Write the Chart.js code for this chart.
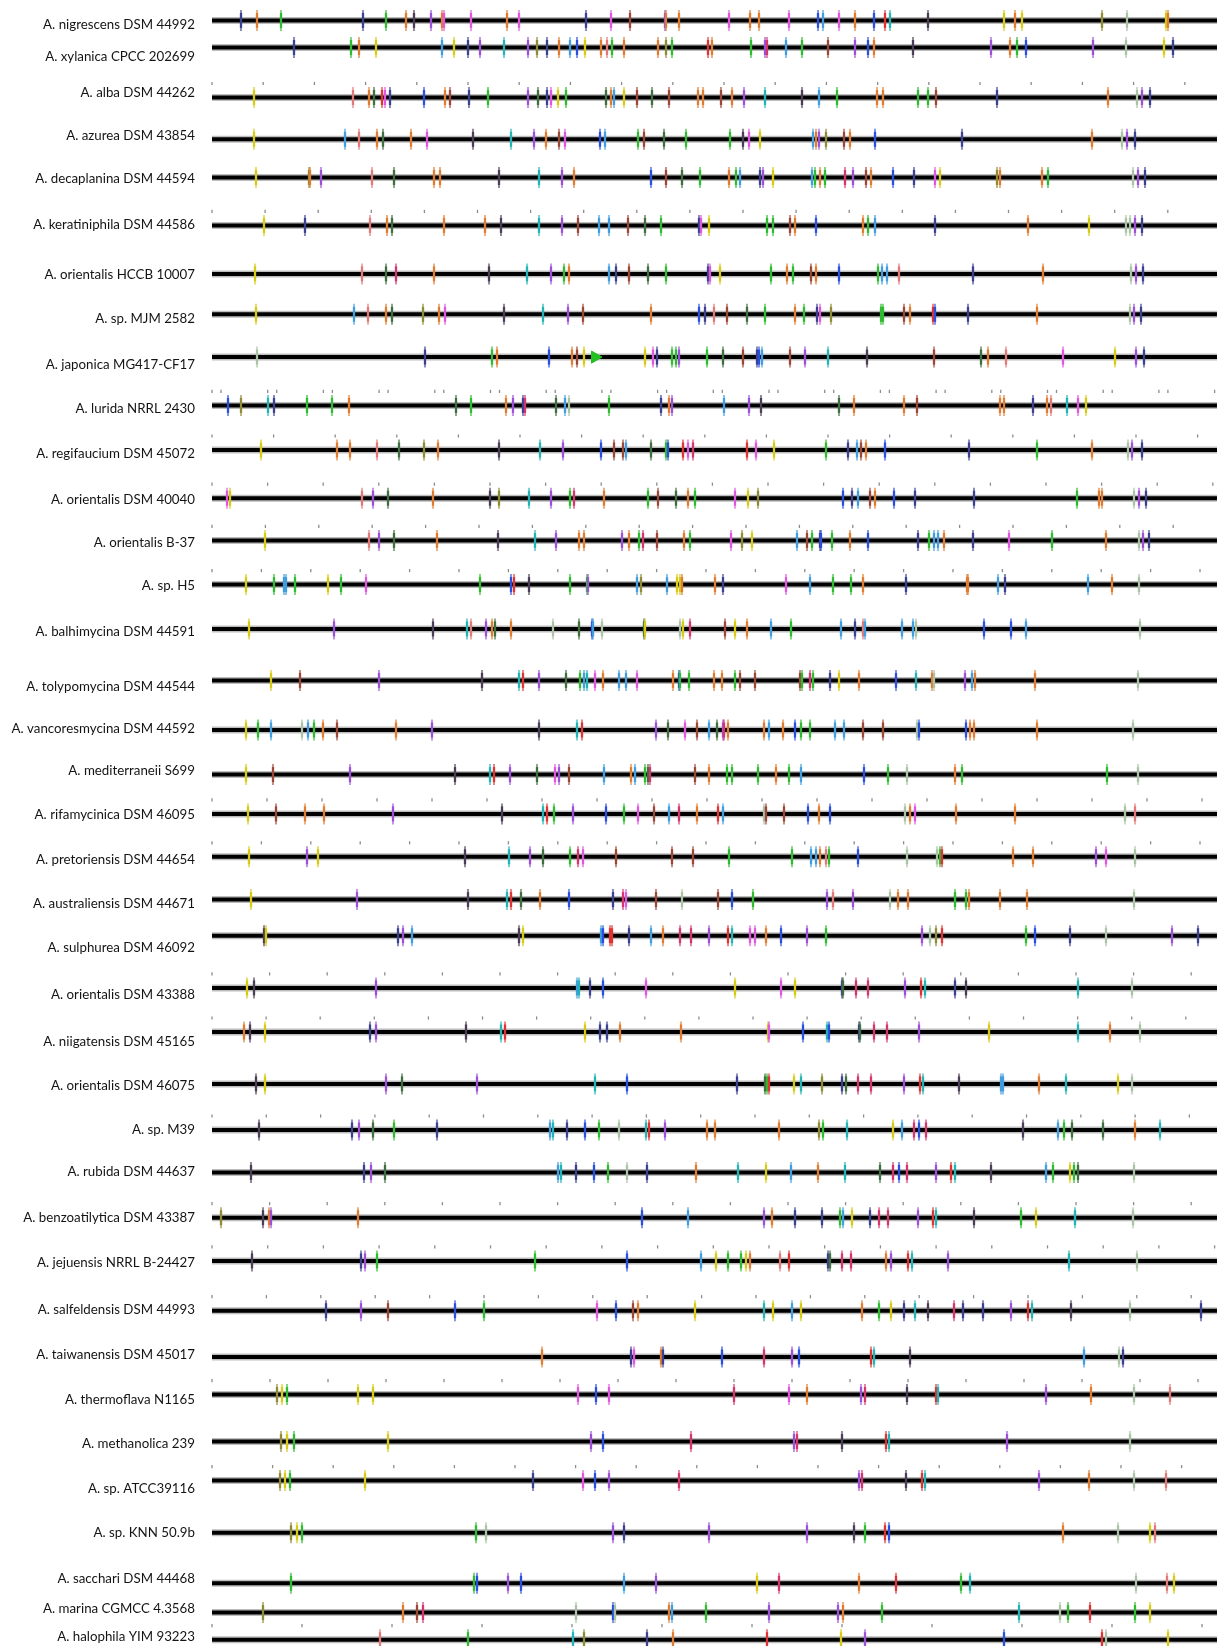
<!DOCTYPE html>
<html><head><meta charset="utf-8">
<script src="https://cdn.jsdelivr.net/npm/chart.js@4.4.1/dist/chart.umd.min.js"></script>
<style>html,body{margin:0;padding:0;background:#fff;overflow:hidden}#wrap{width:1222px;height:1646px;position:relative}</style>
</head><body><div id="wrap"><canvas id="c"></canvas></div>
<script>
const trackNames = ["A. nigrescens DSM 44992","A. xylanica CPCC 202699","A. alba DSM 44262","A. azurea DSM 43854","A. decaplanina DSM 44594","A. keratiniphila DSM 44586","A. orientalis HCCB 10007","A. sp. MJM 2582","A. japonica MG417-CF17","A. lurida NRRL 2430","A. regifaucium DSM 45072","A. orientalis DSM 40040","A. orientalis B-37","A. sp. H5","A. balhimycina DSM 44591","A. tolypomycina DSM 44544","A. vancoresmycina DSM 44592","A. mediterraneii S699","A. rifamycinica DSM 46095","A. pretoriensis DSM 44654","A. australiensis DSM 44671","A. sulphurea DSM 46092","A. orientalis DSM 43388","A. niigatensis DSM 45165","A. orientalis DSM 46075","A. sp. M39","A. rubida DSM 44637","A. benzoatilytica DSM 43387","A. jejuensis NRRL B-24427","A. salfeldensis DSM 44993","A. taiwanensis DSM 45017","A. thermoflava N1165","A. methanolica 239","A. sp. ATCC39116","A. sp. KNN 50.9b","A. sacchari DSM 44468","A. marina CGMCC 4.3568","A. halophila YIM 93223"];
const lineY = [20.4,47.5,97.5,139.3,177.5,225.4,273.9,314.3,357.1,405.4,450,498.2,540.4,584.6,628.9,680.4,730,774.6,813.9,856.8,899.6,935.7,987.9,1032,1083.9,1130,1172.4,1217.7,1260.9,1310.7,1357,1394.6,1441.6,1480.6,1532.8,1583.3,1612.5,1639.7];
const labelY = [24.6,57.1,92.8,135.9,178.9,225.1,274.5,318.5,364.7,408.8,454,500.2,543.2,586.2,631.4,687,729,771,815.1,860.2,903.3,947.4,994.6,1041.9,1085.9,1130,1172,1218.2,1262.3,1309.5,1354.7,1399.8,1443.9,1489.1,1533.2,1578.3,1608.7,1636.8];
const trackSpan = [212, 1217];
const tickStep = [55.1,null,51.2,null,null,53.1,null,null,null,55.7,61.6,55.6,53.4,49.4,null,null,null,null,55.0,49.4,null,null,57.6,54.1,null,54.3,null,57.6,55.7,54.4,null,58.0,null,60.6,null,null,null,90];
const tickSets = {9: [0, 9]};
const markX = [
[241,257,281,363,386,406,414,431,442,444,471,507,519,586,611,630,665,666,679,729,750,759,789,818,823,839,855,874,885,890,928,1004,1015,1022,1102,1127,1166,1168],
[294,351,359,376,442,454,468,480,504,528,537,547,559,570,577,585,601,607,612,624,658,666,672,708,712,751,765,767,786,802,828,855,868,874,913,991,1010,1017,1026,1093,1126,1164,1173],
[254,353,369,374,382,385,390,424,445,450,469,488,528,538,547,551,558,566,606,611,614,624,637,652,669,698,703,721,732,744,765,802,819,837,877,883,918,928,936,997,1108,1137,1142,1150],
[254,345,359,377,383,411,427,473,511,534,546,559,565,600,605,638,644,664,686,730,743,749,760,813,816,819,826,844,850,875,962,1092,1122,1127,1135],
[256,309,310,321,372,394,434,440,499,539,562,574,651,666,682,700,729,736,740,760,763,773,812,815,820,825,845,853,866,871,893,914,935,940,997,1000,1042,1048,1133,1138,1145],
[264,305,370,387,392,444,485,501,539,562,578,599,609,628,645,661,699,701,709,767,773,790,795,816,863,868,875,935,1028,1089,1126,1130,1135,1142],
[255,362,386,396,434,489,527,551,564,569,609,616,629,648,666,708,710,720,771,787,793,811,816,839,878,882,887,899,973,1043,1131,1136,1143],
[256,354,368,386,392,423,439,445,504,543,568,583,651,699,705,714,727,747,765,795,804,817,820,831,881,883,904,910,933,935,968,1037,1130,1134,1141],
[257,425,492,497,549,572,577,584,645,653,657,672,676,679,707,723,743,757,759,762,790,805,828,867,934,981,988,1006,1063,1115,1136,1144],
[228,241,268,274,307,332,349,456,471,506,513,523,525,556,565,569,609,661,669,672,724,749,761,839,854,904,917,1000,1004,1033,1047,1051,1067,1078,1086],
[261,337,350,377,399,424,438,499,540,563,601,614,623,626,651,666,668,683,688,693,747,756,774,826,848,857,861,866,885,969,1037,1092,1128,1132,1142],
[227,230,362,373,388,433,490,499,529,551,570,574,604,648,658,676,688,695,735,748,758,843,852,858,870,875,894,915,974,1077,1099,1102,1134,1139,1146],
[265,369,379,394,437,498,535,556,579,584,622,629,639,643,657,684,690,731,742,752,797,807,812,820,821,832,850,868,918,929,934,938,944,973,1009,1052,1106,1139,1143,1149],
[246,274,284,286,295,328,341,366,480,511,514,529,570,587,588,637,641,667,677,680,682,715,723,786,810,833,851,863,906,967,968,998,1005,1088,1112,1139],
[249,334,433,467,471,486,492,495,511,553,579,592,593,602,644,645,680,683,690,725,735,747,771,791,841,855,863,865,902,913,916,984,1011,1026,1140],
[271,300,379,482,519,523,539,566,580,584,587,595,603,619,626,637,673,679,680,689,714,722,735,740,755,800,802,810,813,830,839,859,896,916,932,934,965,972,975,1035,1138],
[246,258,271,302,308,314,323,337,396,432,539,577,582,656,668,685,697,709,717,723,724,728,764,769,783,795,801,810,835,844,863,883,917,919,966,970,974,1037,1133],
[246,273,350,455,490,494,510,537,555,559,569,604,631,635,645,648,650,695,709,727,732,758,776,789,801,864,888,907,955,962,1107,1138],
[248,276,305,324,393,502,543,547,554,573,606,624,638,654,669,679,697,718,723,764,766,784,808,819,830,905,910,915,956,1015,1125,1135],
[249,307,318,465,509,530,543,570,578,583,616,672,693,729,792,811,816,820,826,829,858,907,937,940,942,1013,1033,1096,1106,1135],
[251,357,468,507,511,521,540,569,613,623,626,656,682,718,732,753,827,833,853,890,898,908,955,966,969,1000,1027,1134],
[264,266,398,403,412,519,523,601,603,610,612,629,651,663,680,691,709,728,732,750,755,766,781,807,826,922,930,936,942,1026,1035,1070,1106,1172,1198],
[247,254,376,577,579,590,603,646,735,781,795,842,843,856,868,905,921,925,955,966,1078,1132],
[244,250,265,370,376,466,501,505,585,600,607,620,681,768,769,803,827,829,859,860,874,887,919,989,1078,1110,1140],
[256,265,386,402,477,595,627,737,765,767,769,794,801,822,842,846,858,871,904,920,923,959,1001,1003,1039,1066,1118,1132],
[259,352,359,373,394,437,550,553,567,585,599,619,646,649,665,707,715,779,819,823,847,893,902,914,919,926,1023,1058,1064,1072,1103,1135,1160],
[251,364,371,385,558,561,576,594,608,627,647,696,738,766,791,818,845,880,893,899,907,936,951,955,991,1046,1053,1070,1074,1078,1134],
[221,263,269,271,358,642,688,764,772,795,822,840,843,852,870,879,888,918,933,936,974,1021,1036,1075,1133],
[252,361,365,377,535,627,701,716,728,741,746,750,780,789,828,830,842,851,886,891,908,912,948,1069,1137],
[326,361,388,455,484,597,616,633,638,695,764,773,792,801,862,879,891,904,915,928,954,963,983,1011,1028,1032,1071,1130,1201],
[542,631,634,661,663,722,764,792,799,871,874,910,1084,1119,1123],
[277,282,287,358,373,578,596,609,734,789,807,861,865,907,936,938,1046,1091,1134,1170],
[281,287,294,388,591,603,691,794,797,842,886,889,1007,1130],
[280,285,290,365,533,583,595,609,679,859,862,906,922,925,1039,1089,1134,1166],
[291,297,302,476,486,613,624,709,807,854,865,885,889,1063,1118,1150,1155],
[291,474,477,508,521,624,656,757,779,859,896,961,970,1136,1167,1174],
[263,403,417,423,576,613,615,669,672,706,769,838,843,882,1019,1060,1068,1090,1135,1150],
[380,468,573,584,647,673,767,841,865,1004,1102,1106,1168]
];
const markColor = [
"nogngokvop"+"popnpRvoop"+"oopbspobrc"+"kyoyOlyo",
"ngoysynvcv"+"Onosbyomgo"+"oOgrogvMsg"+"Rvbokvogbv"+"lyn",
"ymoGrpnboR"+"ngvGnpygGo"+"syRGRooRov"+"cksgooggRn"+"olvn",
"ysmoGopkcv"+"oRpbsgRGgg"+"kpysovORob"+"nolvn",
"yOovmGookc"+"vobRGgogsn"+"vysgogMvRo"+"bnpyOooglv"+"n",
"ynmoGookcv"+"RssRGgnpyg"+"gRobogsnoy"+"llvn",
"ymGMokcvgo"+"snRGgnpygo"+"gRobgssmno"+"lvn",
"ysmoGOopkc"+"vRobnmRGgo"+"gnpOggRorb"+"nolvn",
"lngoboRyyp"+"nggvgGRnbs"+"RvckRGompy"+"vn",
"bOcnggoGgo"+"vnMGslgnov"+"svkGooRoon"+"omcpy",
"yoomGOokcv"+"bRRsGgbrpM"+"rpygnsRobn"+"golvn",
"pymvGokOcv"+"gMogRGogpy"+"ObnsRobnng"+"oolvn",
"ymvGokcvoo"+"vogMRogpOy"+"sRgnbgobng"+"ssonpgolvn",
"ygssgygpgb"+"rkggvsOsyy"+"oonpsggono"+"osnsol",
"yvkcmvoGol"+"GbslGylyMR"+"yosgsnmsss"+"lbbsl",
"yRvkcrvGgs"+"cposspobgg"+"oogRRRgMgn"+"yobcolvsoo"+"l",
"ygslsgoRov"+"kcrvGpRsGv"+"Moosobggss"+"RRlbboool",
"yRvkcrvGpv"+"RsosgGMRog"+"ggogsbglog"+"gl",
"yRoovkcrgv"+"bgpRsMorsl"+"RRboblopoo"+"lm",
"yvykcvGgMp"+"RRRggssomg"+"bllgroovpl",
"yvkcrGobnM"+"pRlRbgvmvl"+"ooggoool",
"kynvskysbr"+"rnsoMMvrcp"+"pobvgvlOrg"+"bnlvn",
"ykvscnbpyp"+"ynGMMvrcnk"+"cl",
"okynvkcryn"+"nooypbcbnG"+"MMvycol",
"kyvGvcbnGg"+"rycOnGMMvr"+"ckssocyl",
"knvGgnscnb"+"glcrvoooOg"+"cysMbMksgG"+"Goc",
"knvGscnbgl"+"nocysocGMb"+"MvrcksgygG"+"l",
"Okovobsvon"+"ngsynMMvrc"+"kgycl",
"knvggbsygg"+"yomrnGMMov"+"rcvcl",
"nvRbgpbRoy"+"cysyogynck"+"Mnnvrckln",
"onponbMvbrcksln",
"OygyypbpMp"+"ovMkrcvolm",
"OygyvbMvMkrcvl",
"OygynpbvMv"+"Mkrcvolm",
"Oygglvnvvk"+"grbolym",
"ggbvbsvyMo"+"rgclmy",
"OoRMlblosg"+"vvogclgrgy",
"mgcOnoryvbrly"
];
const arrowMarks = [[8, 595]];
const palette = {n:'#3c4090',b:'#2a4fe0',s:'#3f9de0',c:'#22b4b4',g:'#2fbb2f',G:'#3f6e3f',y:'#d6ca12',O:'#8e8b33',o:'#e07c30',r:'#e03232',R:'#9c4636',p:'#e056e0',v:'#9c50d8',k:'#4c3d56',l:'#a9c3a4',m:'#e27878',M:'#d6346e'};

const datasets = [];
const markPts = [], markCols = [];
markX.forEach((xs, t) => {
  xs.forEach((x, i) => { markPts.push({x: x, y: lineY[t]}); markCols.push(palette[markColor[t][i]] || '#777'); });
});
datasets.push({type:'scatter', data: markPts, pointStyle:'line', rotation:90, radius:7.5, borderWidth:2.3, pointBorderColor: markCols, order:0, clip:false});
datasets.push({type:'scatter', data: markPts, pointStyle:'line', rotation:90, radius:10.5, borderWidth:1.2, pointBorderColor: markCols, order:0, clip:false});
datasets.push({type:'scatter', data: arrowMarks.map(a=>({x:a[1], y:lineY[a[0]]})), pointStyle:'triangle', rotation:90, radius:7, backgroundColor:'#22c022', borderColor:'#22c022', borderWidth:1, order:0, clip:false});
const tickPts = [];
tickStep.forEach((step, t) => {
  if (!step) return;
  (tickSets[t] || [0]).forEach(off => {
    for (let x = trackSpan[0] + off; x <= trackSpan[1] + 0.5; x += step) tickPts.push({x: x, y: lineY[t] - 14});
  });
});
datasets.push({type:'scatter', data: tickPts, pointStyle:'line', rotation:90, radius:1.6, borderWidth:1.3, pointBorderColor:'#8c8c8c', order:1, clip:false});
lineY.forEach(y => {
  datasets.push({type:'line', data:[{x:trackSpan[0], y:y},{x:trackSpan[1], y:y}], borderColor:'#000', borderWidth:4, pointRadius:0, order:2, clip:false});
  datasets.push({type:'line', data:[{x:trackSpan[0], y:y},{x:trackSpan[1], y:y}], borderColor:'#bdbdbd', borderWidth:7, pointRadius:0, order:3, clip:false});
});

const chart = new Chart(document.getElementById('c'), {
  type: 'scatter',
  data: { datasets },
  options: {
    responsive: true, maintainAspectRatio: false, animation: false, events: [],
    plugins: { legend: {display:false}, tooltip: {enabled:false} },
    layout: { padding: 0 },
    scales: {
      x: { type:'linear', display:false, min:205, max:1222 },
      y: {
        type:'linear', reverse:true, min:0, max:1646,
        grid:{display:false, drawTicks:false}, border:{display:false},
        afterBuildTicks: s => { s.ticks = labelY.map(v => ({value:v})); },
        afterFit: s => { s.width = 205; s.paddingTop = 0; s.paddingBottom = 0; },
        ticks: { autoSkip:false, padding:10, color:'#141414', font:{family:'Lato', size:13.3}, callback:(v,i) => trackNames[i] }
      }
    }
  }
});
const a = chart.chartArea;
chart.options.scales.x.min = a.left; chart.options.scales.x.max = a.right;
chart.options.scales.y.min = a.top; chart.options.scales.y.max = a.bottom;
chart.update('none');
</script></body></html>
